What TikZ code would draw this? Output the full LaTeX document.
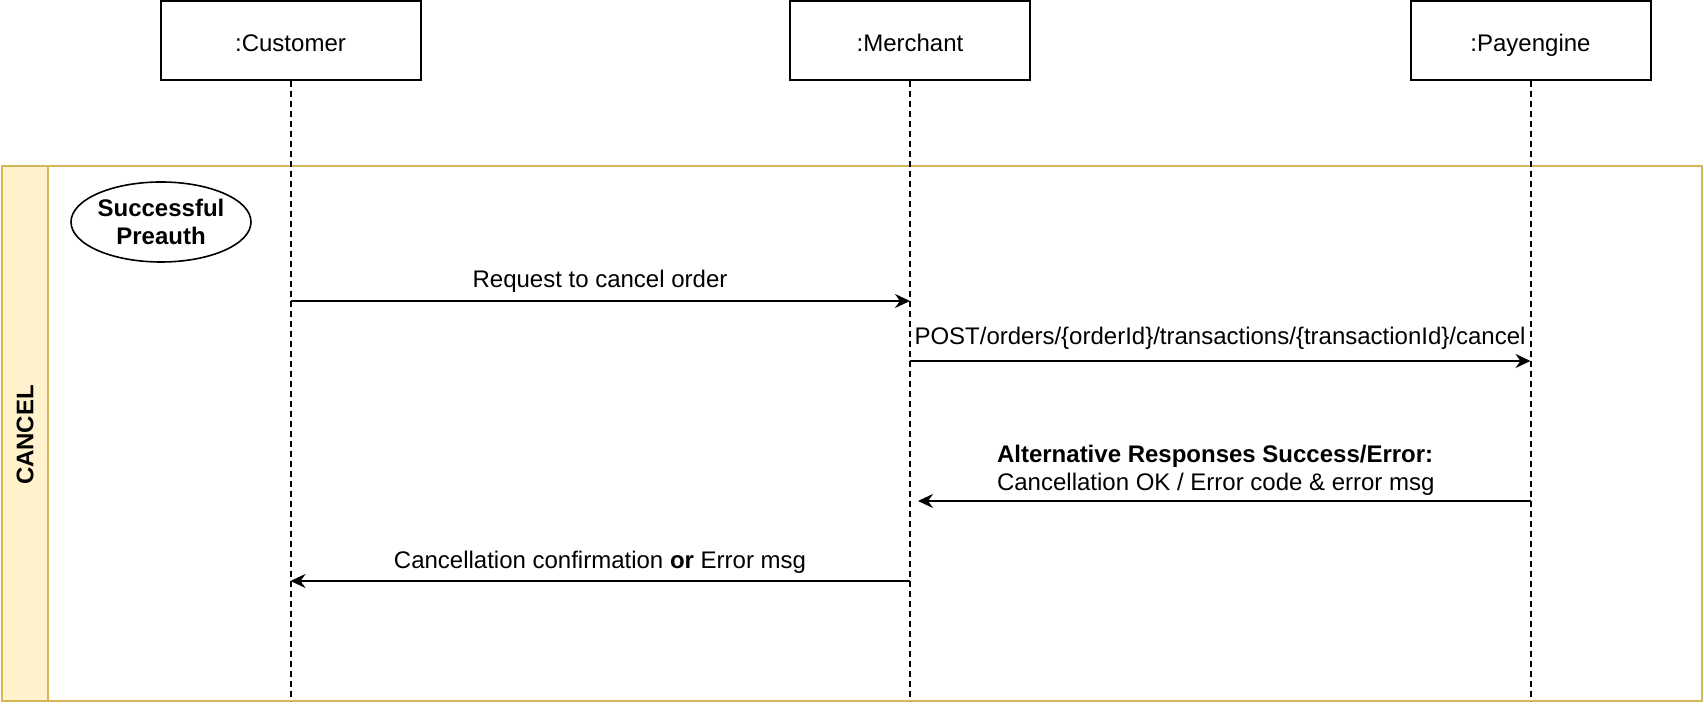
\documentclass[tikz,border=0pt]{standalone}
\usepackage{fontspec}
\setmainfont{Liberation Sans}
\usetikzlibrary{arrows.meta,shapes.geometric}
\definecolor{laneline}{HTML}{D6B656}
\definecolor{lanefill}{HTML}{FFF2CC}

\begin{document}
\begin{tikzpicture}[x=0.5pt,y=-0.5pt,
    font=\fontsize{12pt}{14pt}\selectfont,
    actor/.style={draw, line width=1pt, minimum width=120pt, minimum height=39.5pt, inner sep=0pt,
                  text height=12pt, text depth=0.5pt},
    lifeline/.style={line width=1pt, dash pattern=on 3pt off 2pt},
    msg/.style={line width=1pt, -{Stealth[length=7.5pt,width=7pt,inset=2.5pt]}}]
            \useasboundingbox (0,0) rectangle (1704,704);

            \draw[laneline, line width=0.8pt, fill=white] (2,166) rectangle (1702,701);
            \draw[laneline, line width=0.8pt, fill=lanefill] (2,166) rectangle (48,701);
            \node[rotate=90, font=\fontsize{12pt}{14pt}\selectfont\bfseries] (lane) at (25,435) {CANCEL};

            \node[actor, minimum width=130pt] (cust) at (290.5,40.5) {:Customer};
            \node[actor] (merch) at (910,40.5) {:Merchant};
            \node[actor] (pay) at (1530.5,40.5) {:Payengine};

            \coordinate (bottom) at (0,701);
            \draw[lifeline] (cust) -- (cust |- bottom);
            \draw[lifeline] (merch) -- (merch |- bottom);
            \draw[lifeline] (pay) -- (pay |- bottom);

            \node[ellipse, draw, line width=0.8pt, minimum width=90pt, minimum height=40pt, inner sep=0pt,
                  align=center, font=\fontsize{12pt}{14pt}\selectfont\bfseries] (state) at (161,222) {Successful\\Preauth};

            \coordinate (m1s) at (cust |- 0,301);
            \coordinate (m1e) at (merch |- 0,301);
            \draw[msg] (m1s) -- (m1e);
            \node (m1l) at (600,281) {Request to cancel order};

            \coordinate (m2s) at (merch |- 0,361);
            \coordinate (m2e) at (pay |- 0,361);
            \draw[msg] (m2s) -- (m2e);
            \node (m2l) at (1220,338) {POST/orders/\{orderId\}/transactions/\{transactionId\}/cancel};

            \coordinate (m3s) at (pay |- 0,501);
            \coordinate (m3e) at (918,501);
            \draw[msg] (m3s) -- (m3e);
            \node[align=left, anchor=west] (m3l) at (990,470) {\textbf{Alternative Responses Success/Error:}\\Cancellation OK / Error code \& error msg};

            \coordinate (m4s) at (merch |- 0,581);
            \coordinate (m4e) at (cust |- 0,581);
            \draw[msg] (m4s) -- (m4e);
            \node (m4l) at (600,562) {Cancellation confirmation \textbf{or} Error msg};
        \end{tikzpicture}
\end{document}
